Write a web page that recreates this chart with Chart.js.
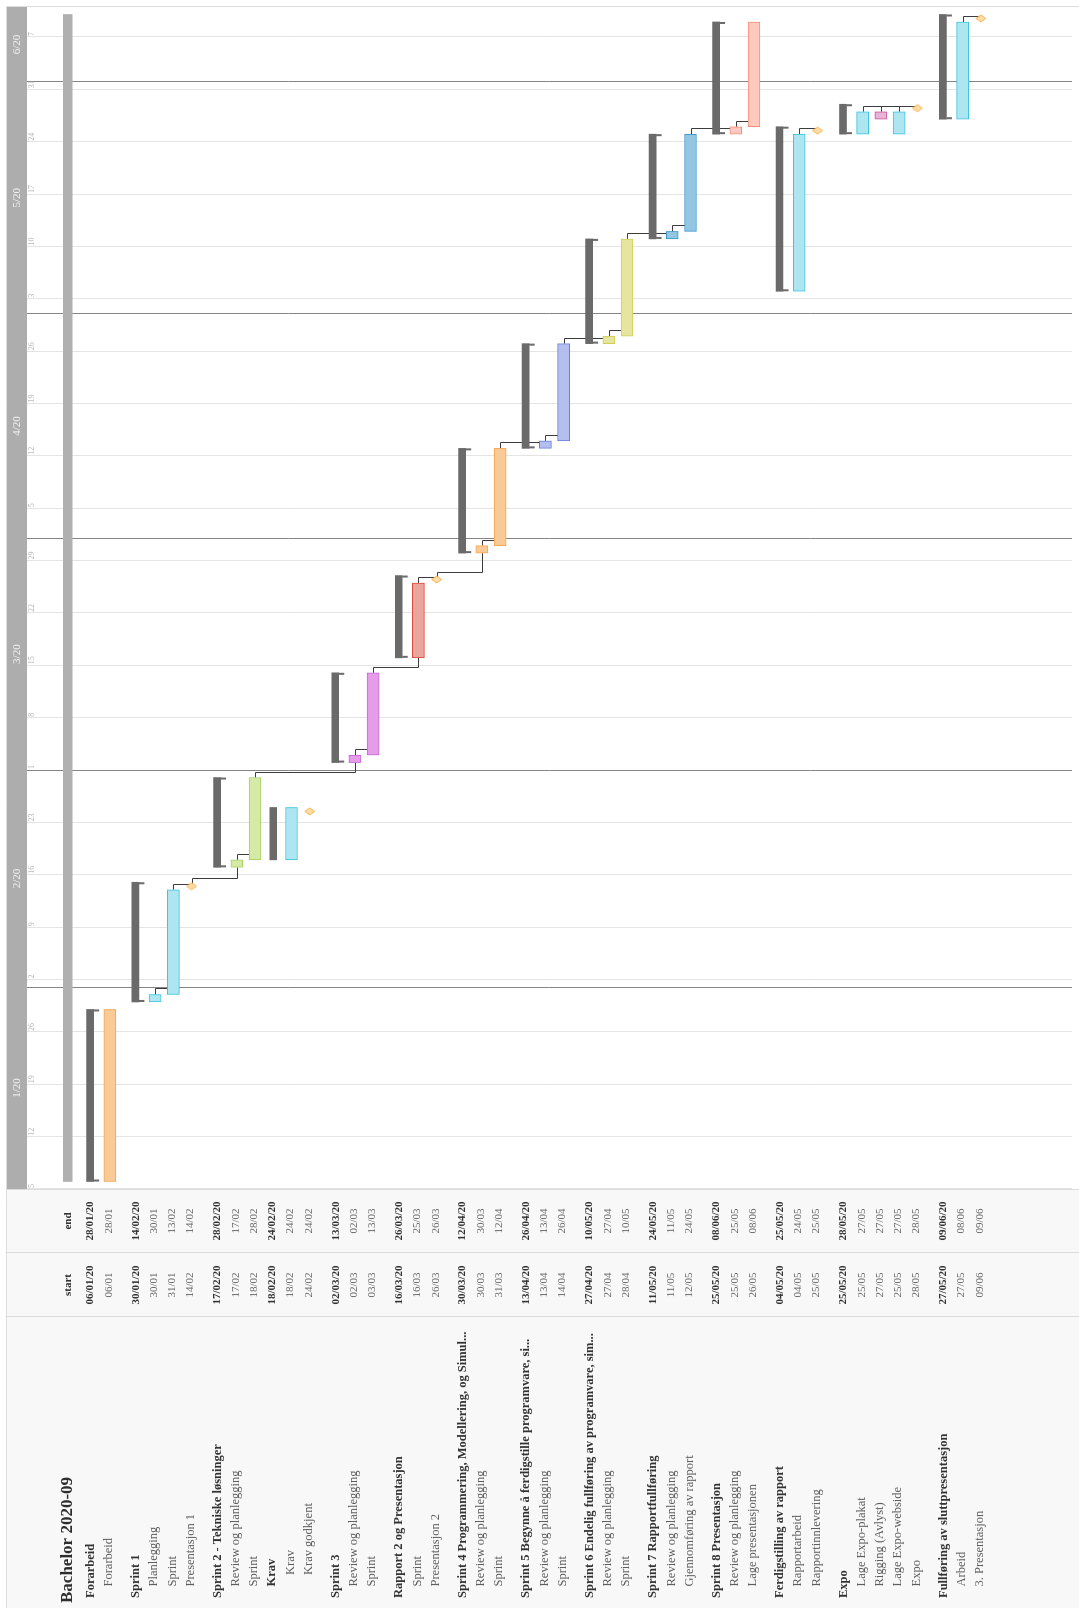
<!DOCTYPE html>
<html>
<head>
<meta charset="utf-8">
<title>Bachelor 2020-09</title>
<script src="https://cdn.jsdelivr.net/npm/chart.js@4.4.1/dist/chart.umd.min.js"></script>
<style>
  html, body { margin: 0; padding: 0; background: #fff; overflow: hidden; }
  /* the gantt is laid out landscape and turned a quarter to the left */
  #wrap {
    position: absolute; left: 0; top: 0;
    width: 1608px; height: 1079px;
    transform-origin: 0 0;
    transform: translateY(1608px) rotate(-90deg);
  }
  #gantt { display: block; }
</style>
</head>
<body>
<div id="wrap"><canvas id="gantt" width="1608" height="1079"></canvas></div>
<script>
// ---- plan data ----
const taskNames = [
  'Bachelor 2020-09',
  'Forarbeid', 'Forarbeid',
  'Sprint 1', 'Planlegging', 'Sprint', 'Presentasjon 1',
  'Sprint 2 - Tekniske løsninger', 'Review og planlegging', 'Sprint', 'Krav', 'Krav', 'Krav godkjent',
  'Sprint 3', 'Review og planlegging', 'Sprint',
  'Rapport 2 og Presentasjon', 'Sprint', 'Presentasjon 2',
  'Sprint 4 Programmering, Modellering, og Simul...', 'Review og planlegging', 'Sprint',
  'Sprint 5 Begynne å ferdigstille programvare, si...', 'Review og planlegging', 'Sprint',
  'Sprint 6 Endelig fullføring av programvare, sim...', 'Review og planlegging', 'Sprint',
  'Sprint 7 Rapportfullføring', 'Review og planlegging', 'Gjennomføring av rapport',
  'Sprint 8 Presentasjon', 'Review og planlegging', 'Lage presentasjonen',
  'Ferdigstilling av rapport', 'Rapportarbeid', 'Rapportinnlevering',
  'Expo', 'Lage Expo-plakat', 'Rigging (Avlyst)', 'Lage Expo-webside', 'Expo',
  'Fullføring av sluttpresentasjon', 'Arbeid', '3. Presentasjon'
];
const taskLevel = [-1, 0, 1, 0, 1, 1, 1, 0, 1, 1, 1, 2, 2, 0, 1, 1, 0, 1, 1, 0, 1, 1, 0, 1, 1,
  0, 1, 1, 0, 1, 1, 0, 1, 1, 0, 1, 1, 0, 1, 1, 1, 1, 0, 1, 1];
const taskKind = ['project',
  'group', 'task',
  'group', 'task', 'task', 'milestone',
  'group', 'task', 'task', 'subgroup', 'task', 'milestone',
  'group', 'task', 'task',
  'group', 'task', 'milestone',
  'group', 'task', 'task',
  'group', 'task', 'task',
  'group', 'task', 'task',
  'group', 'task', 'task',
  'group', 'task', 'task',
  'group', 'task', 'milestone',
  'group', 'task', 'task', 'task', 'milestone',
  'group', 'task', 'milestone'];
const taskStart = ['06/01', '06/01', '06/01', '30/01', '30/01', '31/01', '14/02', '17/02', '17/02', '18/02',
  '18/02', '18/02', '24/02', '02/03', '02/03', '03/03', '16/03', '16/03', '26/03', '30/03', '30/03', '31/03',
  '13/04', '13/04', '14/04', '27/04', '27/04', '28/04', '11/05', '11/05', '12/05', '25/05', '25/05', '26/05',
  '04/05', '04/05', '25/05', '25/05', '25/05', '27/05', '25/05', '28/05', '27/05', '27/05', '09/06'];
const taskEnd = ['09/06', '28/01', '28/01', '14/02', '30/01', '13/02', '14/02', '28/02', '17/02', '28/02',
  '24/02', '24/02', '24/02', '13/03', '02/03', '13/03', '26/03', '25/03', '26/03', '12/04', '30/03', '12/04',
  '26/04', '13/04', '26/04', '10/05', '27/04', '10/05', '24/05', '11/05', '24/05', '08/06', '25/05', '08/06',
  '25/05', '24/05', '25/05', '28/05', '27/05', '27/05', '27/05', '28/05', '09/06', '08/06', '09/06'];
// predecessor -> successor (row numbers)
const links = [[4, 5], [5, 6], [6, 8], [8, 9], [9, 14], [14, 15], [15, 17], [17, 18], [18, 20], [20, 21],
  [21, 23], [23, 24], [24, 26], [26, 27], [27, 29], [29, 30], [30, 32], [32, 33], [35, 36],
  [38, 41], [39, 41], [40, 41], [43, 44]];

const timelineStart = '05/01';
const timelineEnd = '11/06';
const monthLabels = ['1/20', '2/20', '3/20', '4/20', '5/20', '6/20'];
const monthFirst = ['01/01', '01/02', '01/03', '01/04', '01/05', '01/06', '01/07'];
const weekLabels = ['5', '12', '19', '26', '2', '9', '16', '23', '1', '8', '15', '22', '29',
  '5', '12', '19', '26', '3', '10', '17', '24', '31', '7'];

// ---- look ----
const palette = {
  orange: ['#f9ca95', '#f6a44a'],
  cyan:   ['#ade5f0', '#3ec5e0'],
  green:  ['#d4eaa6', '#a6d163'],
  violet: ['#e59de9', '#c765d8'],
  red:    ['#eaa59c', '#de4b3f'],
  indigo: ['#b4bfef', '#6a7fd8'],
  olive:  ['#e6e59f', '#cfcd57'],
  blue:   ['#92c6e3', '#3a95cb'],
  salmon: ['#ffc9c0', '#fb8c78'],
  pink:   ['#e8b3d6', '#c8559e']
};
const rowColour = [null, null, 'orange', null, 'cyan', 'cyan', null, null, 'green', 'green', null, 'cyan', null,
  null, 'violet', 'violet', null, 'red', null, null, 'orange', 'orange', null, 'indigo', 'indigo',
  null, 'olive', 'olive', null, 'blue', 'blue', null, 'salmon', 'salmon', null, 'cyan', null,
  null, 'cyan', 'pink', 'cyan', null, null, 'cyan', null];
const SERIF = '"Liberation Serif", "Times New Roman", serif';
const COL_START = 323, COL_END = 387;
const ROW_TOP = 68, ROW_PX = 18.35;   // first row centre and row pitch in pixels
const AREA_TOP = 27, AREA_BOTTOM = 1079;

const DAY = 86400000;
function dayOf(s) {
  const [d, m] = s.split('/').map(Number);
  return (Date.UTC(2020, m - 1, d) - Date.UTC(2020, 0, 5)) / DAY;
}
const xMin = dayOf(timelineStart), xMax = dayOf(timelineEnd);

// row slots: top-level groups get a little extra air above them
const rowPos = [];
taskNames.forEach((n, i) => {
  if (i === 0) rowPos.push(0);
  else if (i === 1) rowPos.push(1.31);
  else rowPos.push(rowPos[i - 1] + 1 + (taskLevel[i] === 0 ? 0.482 : 0));
});
const yMin = -(ROW_TOP - AREA_TOP) / ROW_PX;
const yMax = (AREA_BOTTOM - ROW_TOP) / ROW_PX;

const projectData = [], groupData = [], subgroupData = [], taskData = [], milestoneData = [];
taskNames.forEach((n, i) => {
  const s = dayOf(taskStart[i]), e = dayOf(taskEnd[i]) + 1;
  switch (taskKind[i]) {
    case 'project': projectData.push({ x: [s, e], y: rowPos[i], row: i }); break;
    case 'group': groupData.push({ x: [s, e], y: rowPos[i] - 0.08, row: i }); break;
    case 'subgroup': subgroupData.push({ x: [s, e], y: rowPos[i], row: i }); break;
    case 'task': taskData.push({ x: [s, e], y: rowPos[i], row: i }); break;
    default: milestoneData.push({ x: s, y: rowPos[i], row: i });
  }
});

const monthTicks = monthFirst.map(dayOf).filter(d => d > xMin && d < xMax);
const weekTicks = weekLabels.map((l, k) => xMin + k * 7);

// milestone marker: diamond whose left tip sits on the date
function makeDiamond() {
  const c = document.createElement('canvas');
  c.width = 16; c.height = 12;
  const g = c.getContext('2d');
  g.beginPath();
  g.moveTo(8, 6); g.lineTo(11.5, 1); g.lineTo(15, 6); g.lineTo(11.5, 11); g.closePath();
  g.fillStyle = '#fedca6'; g.fill();
  g.strokeStyle = '#f4b34f'; g.lineWidth = 1; g.stroke();
  return c;
}
const diamond = makeDiamond();

const framePlugin = {
  id: 'frame',
  beforeDraw(chart) {
    const { ctx, chartArea: a } = chart;
    ctx.save();
    ctx.fillStyle = '#fff';
    ctx.fillRect(0, 0, chart.width, chart.height);
    ctx.fillStyle = '#f8f8f8';
    ctx.fillRect(0, 7, a.left, chart.height - 7);
    ctx.fillStyle = '#adadad';
    ctx.fillRect(a.left, 7, a.right - a.left, a.top - 7);
    ctx.restore();
  },
  afterDraw(chart) {
    const { ctx, chartArea: a } = chart;
    ctx.save();
    ctx.strokeStyle = '#dcdcdc';
    ctx.lineWidth = 1;
    ctx.beginPath();
    ctx.moveTo(0, 6.5); ctx.lineTo(a.right + 0.5, 6.5);
    ctx.moveTo(a.right + 0.5, 6.5); ctx.lineTo(a.right + 0.5, chart.height);
    [291.5, 355.5, a.left - 0.5].forEach(px => { ctx.moveTo(px, 7); ctx.lineTo(px, chart.height); });
    ctx.stroke();
    ctx.restore();
  }
};

const linkPlugin = {
  id: 'links',
  beforeDatasetsDraw(chart) {
    const { ctx, scales: { x, y } } = chart;
    ctx.save();
    ctx.strokeStyle = '#3c3c3c';
    ctx.lineWidth = 1;
    links.forEach(([a, b]) => {
      const y1 = Math.round(y.getPixelForValue(rowPos[a])) + 0.5;
      const y2 = Math.round(y.getPixelForValue(rowPos[b])) + 0.5;
      const fromMs = taskKind[a] === 'milestone';
      const x1 = fromMs ? x.getPixelForValue(dayOf(taskStart[a])) + 3.5
                        : x.getPixelForValue(dayOf(taskEnd[a]) + 1);
      const xs = Math.round(x1 + (fromMs ? 7 : 5)) + 0.5;
      const x2 = x.getPixelForValue(dayOf(taskStart[b]));
      ctx.beginPath();
      ctx.moveTo(x1, y1);
      ctx.lineTo(xs, y1);
      if (taskKind[b] === 'milestone') {
        ctx.lineTo(xs, y2);
      } else if (x2 > xs + 1) {
        ctx.lineTo(xs, y2);
        ctx.lineTo(x2, y2);
      } else {
        ctx.lineTo(xs, y2 - 6);
      }
      ctx.stroke();
    });
    ctx.restore();
  }
};

// end ticks that turn the group bars into brackets
const bracketPlugin = {
  id: 'brackets',
  afterDatasetsDraw(chart) {
    const meta = chart.getDatasetMeta(2);
    const { ctx } = chart;
    ctx.save();
    ctx.fillStyle = '#6a6a6a';
    meta.data.forEach(bar => {
      const { x, y, base, height } = bar.getProps(['x', 'y', 'base', 'height'], true);
      const low = y + height / 2;
      ctx.fillRect(base, low, 2, 5.5);
      ctx.fillRect(x - 2, low, 2, 5.5);
    });
    ctx.restore();
  }
};

const labelPlugin = {
  id: 'labels',
  afterDraw(chart) {
    const { ctx, chartArea: a, scales: { x, y } } = chart;
    ctx.save();
    ctx.textBaseline = 'middle';

    // month band
    ctx.font = `11px ${SERIF}`;
    ctx.fillStyle = '#f4f4f4';
    ctx.textAlign = 'center';
    monthLabels.forEach((m, k) => {
      const s = Math.max(xMin, dayOf(monthFirst[k])), e = Math.min(xMax, dayOf(monthFirst[k + 1]));
      ctx.fillText(m, (x.getPixelForValue(s) + x.getPixelForValue(e)) / 2, (7 + a.top) / 2);
    });

    // week numbers
    ctx.font = `8px ${SERIF}`;
    ctx.fillStyle = '#b4b4b4';
    ctx.textAlign = 'left';
    weekLabels.forEach((l, k) => ctx.fillText(l, x.getPixelForValue(weekTicks[k]) + 1, a.top + 5));

    // task table
    taskNames.forEach((name, i) => {
      const py = y.getPixelForValue(rowPos[i]) - 1;
      if (i === 0) {
        ctx.fillStyle = '#2e2e2e';
        ctx.textAlign = 'left';
        ctx.font = `bold 17px ${SERIF}`;
        ctx.fillText(name, 5, py + 1);
        ctx.textAlign = 'center';
        ctx.font = `bold 11px ${SERIF}`;
        ctx.fillText('start', COL_START, py + 1);
        ctx.fillText('end', COL_END, py + 1);
        return;
      }
      const bold = taskKind[i] === 'group' || taskKind[i] === 'subgroup';
      ctx.fillStyle = bold ? '#333' : '#5e5e5e';
      ctx.textAlign = 'left';
      ctx.font = `${bold ? 'bold ' : ''}12.5px ${SERIF}`;
      ctx.fillText(name, 10 + 11.5 * taskLevel[i], py);
      ctx.textAlign = 'center';
      ctx.font = `${bold ? 'bold ' : ''}11px ${SERIF}`;
      ctx.fillStyle = bold ? '#333' : '#666';
      const suffix = bold ? '/20' : '';
      ctx.fillText(taskStart[i] + suffix, COL_START, py);
      ctx.fillText(taskEnd[i] + suffix, COL_END, py);
    });
    ctx.restore();
  }
};

const fill = c => (c.raw && rowColour[c.raw.row]) ? palette[rowColour[c.raw.row]][0] : '#ccc';
const edge = c => (c.raw && rowColour[c.raw.row]) ? palette[rowColour[c.raw.row]][1] : '#999';

new Chart(document.getElementById('gantt'), {
  data: {
    datasets: [
      { type: 'scatter', label: 'Milepæl', data: milestoneData, pointStyle: diamond, pointRadius: 6 },
      { type: 'bar', label: 'Oppgave', indexAxis: 'y', data: taskData, grouped: false, barThickness: 12,
        borderWidth: 1, borderSkipped: false, backgroundColor: fill, borderColor: edge },
      { type: 'bar', label: 'Gruppe', indexAxis: 'y', data: groupData, grouped: false, barThickness: 7,
        borderWidth: 0, backgroundColor: '#6a6a6a' },
      { type: 'bar', label: 'Undergruppe', indexAxis: 'y', data: subgroupData, grouped: false, barThickness: 7,
        borderWidth: 0, backgroundColor: '#6a6a6a' },
      { type: 'bar', label: 'Prosjekt', indexAxis: 'y', data: projectData, grouped: false, barThickness: 9,
        borderWidth: 0, backgroundColor: '#b0b0b0' }
    ]
  },
  options: {
    responsive: false,
    animation: false,
    events: [],
    layout: { padding: { left: 419, right: 7, top: AREA_TOP, bottom: 1079 - AREA_BOTTOM } },
    plugins: { legend: { display: false }, tooltip: { enabled: false } },
    scales: {
      x: {
        type: 'linear', position: 'top', min: xMin, max: xMax, offset: false,
        afterBuildTicks: scale => {
          const vals = [...new Set([...weekTicks, ...monthTicks])].sort((p, q) => p - q);
          scale.ticks = vals.map(v => ({ value: v }));
        },
        ticks: { display: false },
        border: { display: false },
        grid: {
          drawTicks: false,
          offset: false,
          lineWidth: 1,
          color: c => monthTicks.includes(c.tick.value) ? '#858585' : '#e4e4e4'
        }
      },
      y: { type: 'linear', display: false, reverse: true, offset: false, grace: 0, min: yMin, max: yMax }
    }
  },
  plugins: [framePlugin, linkPlugin, bracketPlugin, labelPlugin]
});
</script>
</body>
</html>
